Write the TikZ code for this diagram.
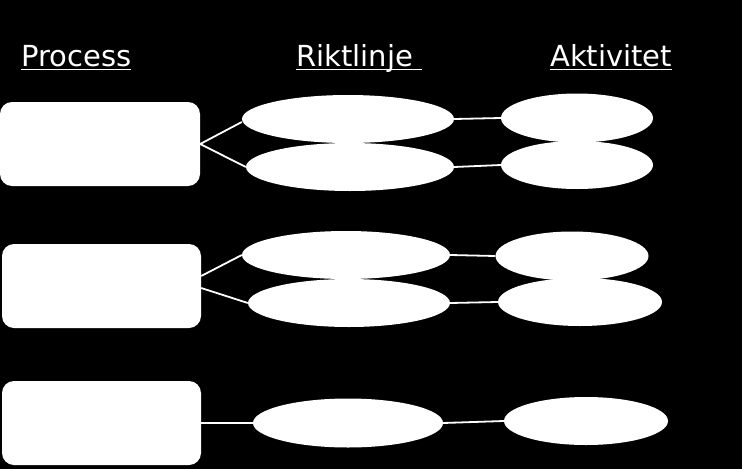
\documentclass[tikz,border=0pt]{standalone}
\usepackage{fontspec}
\setmainfont{DejaVu Sans}
\usepackage{tikz}
\usetikzlibrary{shapes.geometric}
\tikzstyle{sheet} = [x = 1pt, y = -1pt]
\tikzstyle{processStyle} = [fill=white, rounded corners = 12pt, inner sep = 0pt]
\tikzstyle{ovalStyle} = [ellipse, fill=white, inner sep = 0pt]
\tikzstyle{linkLine} = [color=white, line width=1.8pt]
\tikzstyle{titleText} = [text=white, font=\fontsize{29}{34}\selectfont, inner sep = 0pt, anchor = base west]
\tikzstyle{titleLine} = [color=white, line width=1.8pt]
\newcommand{\underlineShift}{3.5pt}
\newcommand{\processBox}[4]{\node [processStyle, minimum width = #4pt, minimum height = 84pt] (#1) at (#2, #3) {};}
\newcommand{\ovalNode}[5]{\node [ovalStyle, minimum width = #4pt, minimum height = #5pt] (#1) at (#2, #3) {};}
\newcommand{\columnTitle}[4]{
  \node [titleText] (#1) at (#2, #3) {#4};
  \draw [titleLine] ([yshift=-\underlineShift]#1.base west) -- ([yshift=-\underlineShift]#1.base east);
}
\begin{document}
\begin{tikzpicture}[sheet]
  \fill [black] (0,0) rectangle (742,469);
  \useasboundingbox (0,0) rectangle (742,469);
  % titles
  \columnTitle{tProcess}{21}{66}{Process}
  \columnTitle{tRiktlinje}{296}{66}{Riktlinje\ \null}
  \columnTitle{tAktivitet}{550}{66}{Aktivitet}
  % processes
  \processBox{p1}{100}{144}{200}
  \processBox{p2}{101.5}{286}{199}
  \processBox{p3}{101.5}{423}{199}
  % riktlinjer
  \ovalNode{r1a}{348}{119}{212}{48}
  \ovalNode{r1b}{350}{167}{208}{48}
  \ovalNode{r2a}{346}{255}{208}{48}
  \ovalNode{r2b}{349}{303}{202}{48}
  \ovalNode{r3}{348}{423}{190}{49}
  % aktiviteter
  \ovalNode{a1a}{577}{118}{152}{49}
  \ovalNode{a1b}{577}{165}{152}{48}
  \ovalNode{a2a}{572}{256}{153}{49}
  \ovalNode{a2b}{580}{302}{164}{48}
  \ovalNode{a3}{586}{421}{164}{48}
  % links
  \draw [linkLine] (p1.east) -- ([yshift=-3pt]r1a.west);
  \draw [linkLine] (p1.east) -- (r1b.west);
  \draw [linkLine] ([yshift=10pt]p2.east) -- (r2a.west);
  \draw [linkLine] ([yshift=-2pt]p2.east) -- (r2b.west);
  \draw [linkLine] (p3.east) -- (r3.west);
  \draw [linkLine] (r1a.east) -- (a1a.west);
  \draw [linkLine] (r1b.east) -- (a1b.west);
  \draw [linkLine] (r2a.east) -- (a2a.west);
  \draw [linkLine] (r2b.east) -- (a2b.west);
  \draw [linkLine] (r3.east) -- (a3.west);
\end{tikzpicture}
\end{document}
